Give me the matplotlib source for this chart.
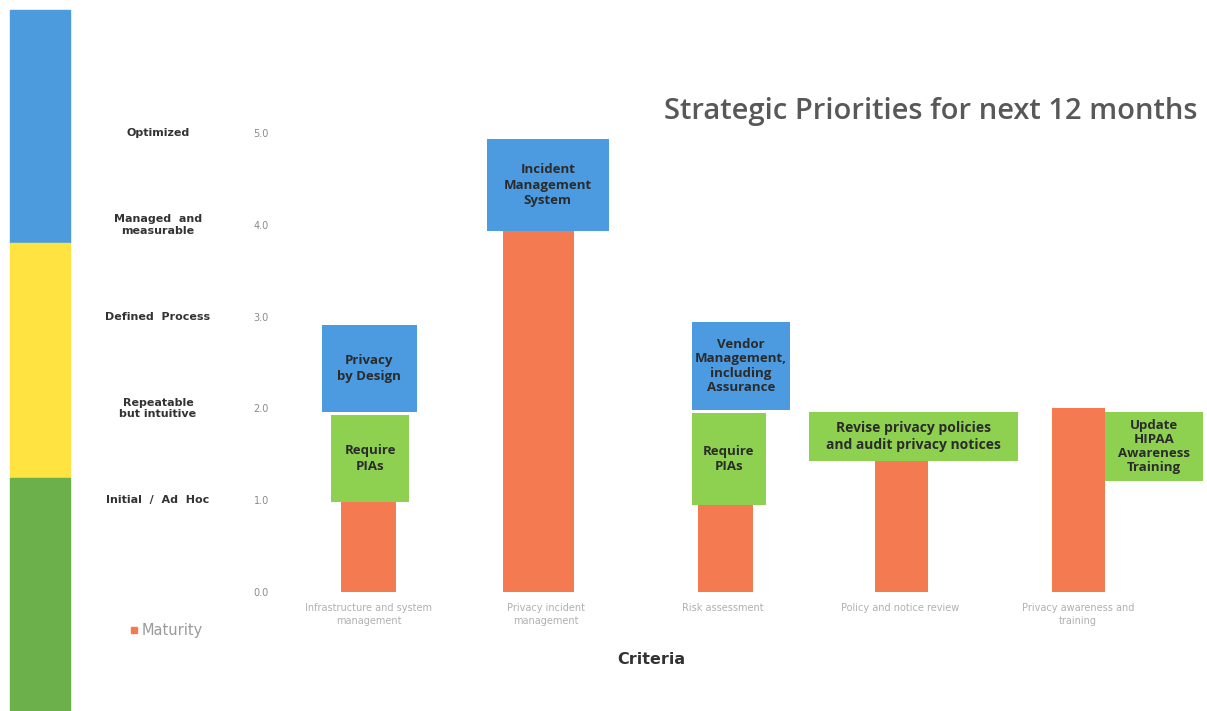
import matplotlib
matplotlib.use("Agg")
import matplotlib.pyplot as plt
from matplotlib.patches import Rectangle

# ---------------- data ----------------
categories = ["Infrastructure and system\nmanagement",
              "Privacy incident\nmanagement",
              "Risk assessment",
              "Policy and notice review",
              "Privacy awareness and\ntraining"]
maturity = [1.0, 4.0, 1.0, 1.5, 2.0]

level_values = [1.0, 2.0, 3.0, 4.0, 5.0]
level_labels = ["Initial  /  Ad  Hoc", "Repeatable\nbut intuitive", "Defined  Process",
                "Managed  and\nmeasurable", "Optimized"]
yticks = [0.0, 1.0, 2.0, 3.0, 4.0, 5.0]

# priority boxes: (category index, label, low, high, kind)
box_cat = [0, 0, 1, 2, 2, 3, 4]
box_text = ["Require\nPIAs", "Privacy\nby Design", "Incident\nManagement\nSystem",
            "Require\nPIAs", "Vendor\nManagement,\nincluding\nAssurance",
            "Revise privacy policies\nand audit privacy notices",
            "Update\nHIPAA\nAwareness\nTraining"]
box_lo = [0.98, 1.96, 3.93, 0.95, 1.98, 1.43, 1.21]
box_hi = [1.93, 2.91, 4.93, 1.95, 2.94, 1.96, 1.96]
box_kind = ["green", "blue", "blue", "green", "blue", "green", "green"]

title = "Strategic Priorities for next 12 months"
xlabel = "Criteria"
legend_label = "Maturity"

# ---------------- style ----------------
ORANGE = "#F47A52"
BLUE = "#4C9BE0"
GREEN = "#8ED150"
box_colors = {"green": GREEN, "blue": BLUE}
# horizontal extent of each box relative to the category centre
box_dx = [(-0.21, 0.23), (-0.265, 0.27), (-0.334, 0.354), (-0.178, 0.24),
          (-0.178, 0.375), (-0.518, 0.661), (0.152, 0.705)]
box_fs = [9.5, 9.5, 9.5, 9.5, 9.5, 10, 9.5]
box_ls = [1.25, 1.25, 1.25, 1.25, 1.15, 1.3, 1.1]
bar_widths = [0.31, 0.40, 0.31, 0.30, 0.30]
bar_shift = [0.0, -0.044, 0.01, 0.007, 0.003]

fig = plt.figure(figsize=(12.07, 7.11), dpi=100)
fig.patch.set_facecolor("white")

# left maturity colour band (figure coordinates)
W, H = 1207, 711
def band(y0, y1, color):
    fig.patches.append(Rectangle((10 / W, 1 - y1 / H), 60 / W, (y1 - y0) / H,
                                 transform=fig.transFigure, color=color, zorder=0))
band(10, 243, "#4C9BDC")
band(243, 478, "#FFE341")
band(478, 711, "#6BB04A")

ax = fig.add_axes([280 / W, 119 / H, (1202 - 280) / W, (592 - 133) / H])
x = list(range(len(categories)))
xb = [xi + s for xi, s in zip(x, bar_shift)]
ax.bar(xb, maturity, width=bar_widths, color=ORANGE, zorder=2)

for ci, txt, lo, hi, kind, (d0, d1), fs, ls in zip(box_cat, box_text, box_lo, box_hi,
                                                    box_kind, box_dx, box_fs, box_ls):
    ax.add_patch(Rectangle((ci + d0, lo), d1 - d0, hi - lo, facecolor=box_colors[kind],
                           edgecolor="none", zorder=3, clip_on=False))
    ax.text(ci + (d0 + d1) / 2, (lo + hi) / 2, txt, ha="center", va="center",
            fontsize=fs, fontweight="bold", color="#2b2b2b", family="Open Sans",
            linespacing=ls, zorder=4, clip_on=False)

ax.set_xlim(-0.5, 4.7)
ax.set_ylim(0, 5.0)
ax.set_yticks(yticks)
ax.set_yticklabels([f"{v:.1f}" for v in yticks], fontsize=7, color="#8a8a8a")
ax.set_xticks(x)
ax.set_xticklabels(categories, fontsize=7, color="#b0b0b0", linespacing=1.4)
ax.tick_params(axis="both", length=0)
ax.tick_params(axis="y", pad=8)
ax.tick_params(axis="x", pad=8)
for s in ax.spines.values():
    s.set_visible(False)

# maturity level labels
for v, lab in zip(level_values, level_labels):
    ax.text(-0.5 - 122 / 177.25, v, lab, ha="center", va="center", fontsize=8,
            fontweight="bold", color="#333333", family="DejaVu Sans",
            linespacing=1.2, transform=ax.transData, clip_on=False)

fig.text(1198 / W, 1 - 112 / H, title, ha="right", va="center", fontsize=21,
         fontweight="semibold", color="#585858", family="Open Sans")
fig.text(651 / W, 1 - 660 / H, xlabel, ha="center", va="center", fontsize=11.5,
         fontweight="bold", color="#333333", family="DejaVu Sans")

# legend
fig.patches.append(Rectangle((131 / W, 1 - 633 / H), 6 / W, 6 / H,
                             transform=fig.transFigure, color=ORANGE))
fig.text(142 / W, 1 - 630 / H, legend_label, ha="left", va="center", fontsize=10.5,
         color="#9a9a9a", family="DejaVu Sans")

fig.savefig("out.png", dpi=100, facecolor="white")
